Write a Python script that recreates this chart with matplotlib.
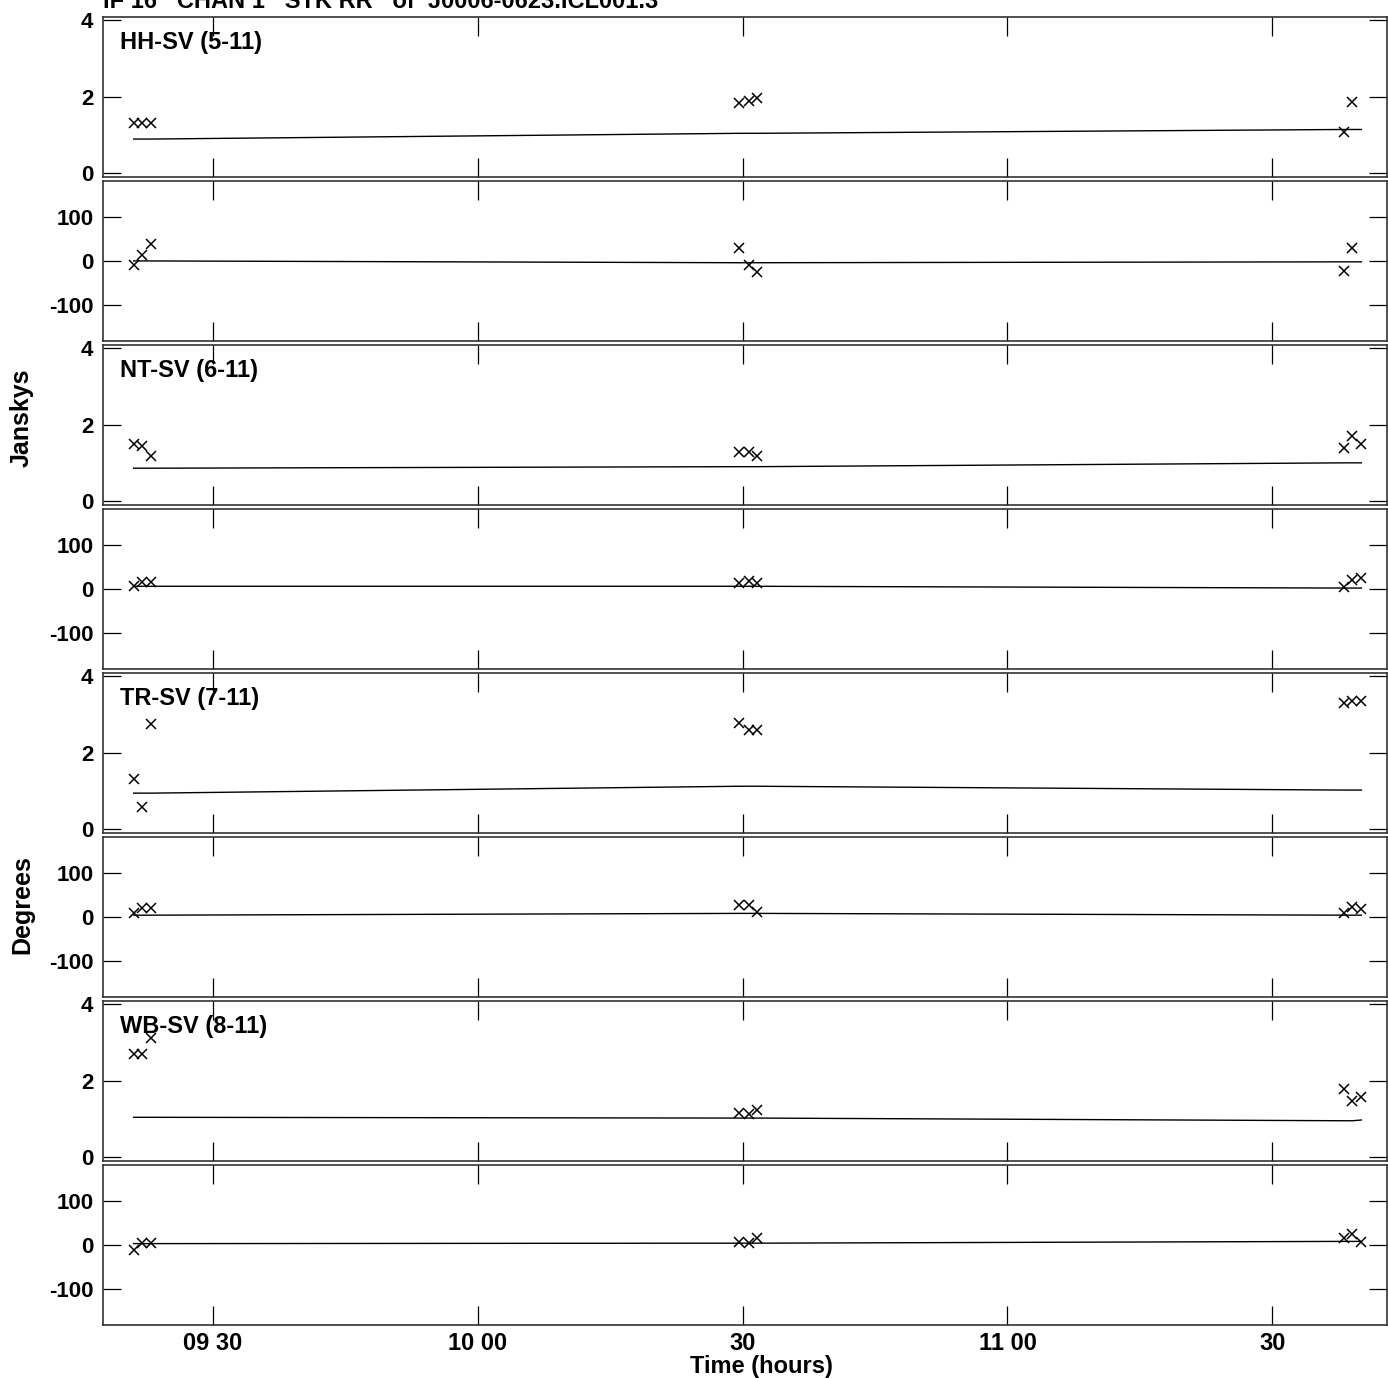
import numpy as np
import matplotlib
matplotlib.use("Agg")
import matplotlib.pyplot as plt

plt.rcParams["font.family"] = ["Liberation Sans", "DejaVu Sans"]
plt.rcParams["font.weight"] = "bold"

# scan times (hours)
times = [9.3504, 9.3666, 9.3836, 10.494, 10.512, 10.528, 11.636, 11.651, 11.668]

baselines = ["HH-SV (5-11)", "NT-SV (6-11)", "TR-SV (7-11)", "WB-SV (8-11)"]

# amplitude (Jy) per baseline; None = no point
amp_obs = [
    [1.30, 1.30, 1.30, 1.82, 1.88, 1.95, 1.08, 1.85, None],
    [1.49, 1.43, 1.19, 1.29, 1.29, 1.19, 1.40, 1.69, 1.48],
    [1.31, 0.58, 2.75, 2.77, 2.59, 2.59, 3.30, 3.34, 3.34],
    [2.69, 2.69, 3.12, 1.16, 1.13, 1.23, 1.78, 1.47, 1.57],
]
amp_model = [
    [0.89, 0.89, 0.89, 1.04, 1.04, 1.04, 1.14, 1.14, 1.14],
    [0.86, 0.86, 0.86, 0.90, 0.90, 0.90, 1.00, 1.00, 1.00],
    [0.94, 0.94, 0.94, 1.12, 1.12, 1.12, 1.02, 1.02, 1.02],
    [1.04, 1.04, 1.04, 1.02, 1.02, 1.02, 0.95, 0.95, 0.97],
]

# phase (deg)
phs_obs = [
    [-10, 13, 38, 30, -10, -24, -22, 30, None],
    [6, 15, 15, 13, 17, 13, 4, 20, 24],
    [10, 21, 21, 26, 26, 11, 8, 23, 17],
    [-11, 5, 5, 6, 4, 15, 15, 24, 6],
]
phs_model = [
    [0, 0, 0, -4, -4, -4, -2, -2, -2],
    [6, 6, 6, 6, 6, 6, 2, 2, 2],
    [4, 4, 4, 8, 8, 8, 4, 4, 4],
    [3, 3, 3, 4, 4, 4, 8, 8, 8],
]

xticks = [9.5, 10.0, 10.5, 11.0, 11.5]
xticklabels = ["09 30", "10 00", "30", "11 00", "30"]

FS = 17

fig = plt.figure(figsize=(13.88, 13.78), dpi=100)
gs = fig.add_gridspec(8, 1, left=0.0742, right=0.9995, top=0.9877, bottom=0.0385, hspace=0.025)


def style(ax, yticks, ylim, last):
    ax.set_xlim(9.2925, 11.717)
    ax.set_ylim(*ylim)
    ax.set_xticks(xticks)
    ax.set_yticks(yticks)
    ax.tick_params(direction="in", top=True, right=True, length=13, width=0.9,
                   labelsize=16, pad=7)
    ax.tick_params(axis="x", length=14, labelsize=FS, pad=5)
    if last:
        ax.set_xticklabels(xticklabels, fontweight="bold")
    else:
        ax.set_xticklabels([])
    ax.set_yticklabels([str(v) for v in yticks], fontweight="bold")
    for sp in ax.spines.values():
        sp.set_color("#333333")
        sp.set_linewidth(1.2)


def draw(ax, obs, model):
    pts = [(t, v) for t, v in zip(times, obs) if v is not None]
    ax.plot([p[0] for p in pts], [p[1] for p in pts], "x", color="black",
            markersize=7, markeredgewidth=1.1, linestyle="none")
    ax.plot(times, model, color="black", linewidth=1.0)


for i, name in enumerate(baselines):
    ax_a = fig.add_subplot(gs[2 * i])
    draw(ax_a, amp_obs[i], amp_model[i])
    style(ax_a, [0, 2, 4], (-0.1, 4.08), False)
    ax_a.text(0.013, 0.915, name, transform=ax_a.transAxes, ha="left", va="top",
              fontsize=FS, fontweight="bold")

    ax_p = fig.add_subplot(gs[2 * i + 1])
    draw(ax_p, phs_obs[i], phs_model[i])
    style(ax_p, [-100, 0, 100], (-180, 180), i == len(baselines) - 1)
    if i == len(baselines) - 1:
        ax_p.set_xlabel("Time (hours)", fontsize=FS, fontweight="bold", labelpad=0)
        ax_p.xaxis.set_label_coords(0.513, -0.185)

fig.text(0.0742, 1 - 8 / 1378, "IF 16   CHAN 1   STK RR   of  J0006-0623.ICL001.3",
         ha="left", va="baseline", fontsize=FS, fontweight="bold")
fig.text(22 / 1388, 1 - 418 / 1378, "Janskys", rotation=90, ha="center", va="center",
         fontsize=18, fontweight="bold")
fig.text(22 / 1388, 1 - 905 / 1378, "Degrees", rotation=90, ha="center", va="center",
         fontsize=18, fontweight="bold")

fig.savefig("out.png", dpi=100)
